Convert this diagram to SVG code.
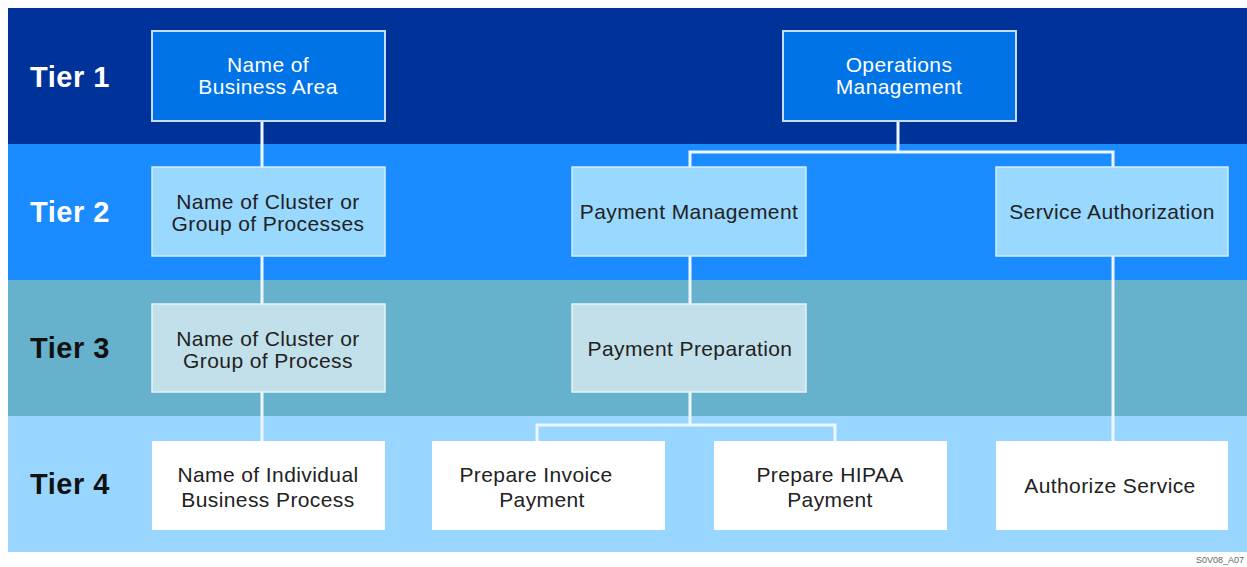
<svg xmlns="http://www.w3.org/2000/svg" width="1247" height="567" viewBox="0 0 1247 567">
<style>
.tier{font-family:"Liberation Sans",Arial,sans-serif;font-weight:bold;font-size:29px;letter-spacing:0.5px}
.lbl{font-family:"Liberation Sans",Arial,sans-serif;font-size:21px;letter-spacing:0.4px;text-anchor:middle;fill:#222}
.w{fill:#ffffff}
.b1{fill:#0073e6;stroke:#c8dcff;stroke-width:2}
.b2{fill:#99d8ff;stroke:#cfeeff;stroke-width:1.5}
.b3{fill:#c2e0ea;stroke:#e6f4f8;stroke-width:1.5}
.b4{fill:#ffffff}
.con{fill:none;stroke:#eef6ff;stroke-width:3}
</style>
<rect width="1247" height="567" fill="#ffffff"/>
<g id="bands">
<rect x="8" y="8" width="1239" height="136" fill="#003399"/>
<rect x="8" y="144" width="1239" height="136" fill="#1a8cff"/>
<rect x="8" y="280" width="1239" height="136" fill="#66b2cc"/>
<rect x="8" y="416" width="1239" height="136" fill="#99d6ff"/>
<text class="tier w" x="30" y="87">Tier 1</text>
<text class="tier w" x="30" y="222">Tier 2</text>
<text class="tier" x="30" y="358" fill="#111">Tier 3</text>
<text class="tier" x="30" y="494" fill="#111">Tier 4</text>
</g>
<g id="connectors">
<path class="con" d="M262 121V441"/>
<path class="con" d="M898 121V152M690 167V152H1113V167"/>
<path class="con" d="M690 256V304"/>
<path class="con" d="M690 392V425M537 441V425H835V441"/>
<path class="con" d="M1113 256V441"/>
</g>
<g id="n-business-area">
<rect class="b1" x="152" y="31" width="233" height="90"/>
<text class="lbl w" x="268" y="72">Name of</text>
<text class="lbl w" x="268" y="94">Business Area</text>
</g>
<g id="n-ops">
<rect class="b1" x="783" y="31" width="233" height="90"/>
<text class="lbl w" x="899" y="72">Operations</text>
<text class="lbl w" x="899" y="94">Management</text>
</g>
<g id="n-cluster2">
<rect class="b2" x="152" y="167" width="233" height="89"/>
<text class="lbl" x="268" y="209">Name of Cluster or</text>
<text class="lbl" x="268" y="231">Group of Processes</text>
</g>
<g id="n-paymgmt">
<rect class="b2" x="572" y="167" width="234" height="89"/>
<text class="lbl" x="689" y="219">Payment Management</text>
</g>
<g id="n-serviceauth">
<rect class="b2" x="996" y="167" width="232" height="89"/>
<text class="lbl" x="1112" y="219">Service Authorization</text>
</g>
<g id="n-cluster3">
<rect class="b3" x="152" y="304" width="233" height="88"/>
<text class="lbl" x="268" y="346">Name of Cluster or</text>
<text class="lbl" x="268" y="368">Group of Process</text>
</g>
<g id="n-payprep">
<rect class="b3" x="572" y="304" width="234" height="88"/>
<text class="lbl" x="690" y="356">Payment Preparation</text>
</g>
<g id="n-individual">
<rect class="b4" x="152" y="441" width="233" height="89"/>
<text class="lbl" x="268" y="482">Name of Individual</text>
<text class="lbl" x="268" y="507">Business Process</text>
</g>
<g id="n-invoice">
<rect class="b4" x="432" y="441" width="233" height="89"/>
<text class="lbl" x="536" y="482">Prepare Invoice</text>
<text class="lbl" x="542" y="507">Payment</text>
</g>
<g id="n-hipaa">
<rect class="b4" x="714" y="441" width="233" height="89"/>
<text class="lbl" x="830" y="482">Prepare HIPAA</text>
<text class="lbl" x="830" y="507">Payment</text>
</g>
<g id="n-authorize">
<rect class="b4" x="996" y="441" width="232" height="89"/>
<text class="lbl" x="1110" y="493">Authorize Service</text>
</g>
<text x="1244" y="563" font-family="'Liberation Sans',Arial,sans-serif" font-size="9" fill="#666" text-anchor="end">S0V08_A07</text>
</svg>
